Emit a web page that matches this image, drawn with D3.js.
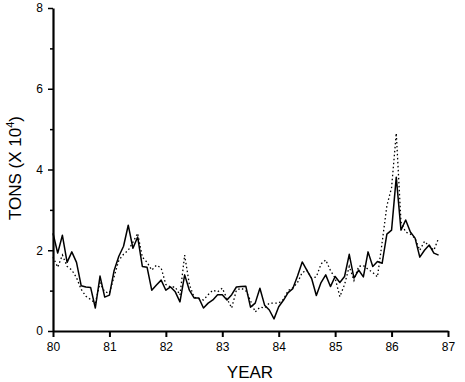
<!DOCTYPE html>
<html>
<head>
<meta charset="utf-8">
<script src="https://cdn.jsdelivr.net/npm/d3@7"></script>
<style>
  html, body { margin: 0; padding: 0; background: #fff; }
  svg { display: block; }
  text { font-family: "Liberation Sans", Arial, sans-serif; fill: #000; }
</style>
</head>
<body>
<div id="chart"></div>
<script>
// monthly values, Jan 1980 .. Nov 1986 (tons x 10^4)
const solidSeries = [
  2.42, 1.93, 2.37, 1.70, 1.96, 1.70, 1.12, 1.09, 1.08, 0.57, 1.36, 0.84,
  0.89, 1.50, 1.85, 2.10, 2.62, 2.05, 2.33, 1.60, 1.58, 1.01, 1.14, 1.26,
  1.01, 1.09, 0.97, 0.72, 1.39, 1.01, 0.82, 0.82, 0.57, 0.69, 0.77, 0.90,
  0.90, 0.77, 0.90, 1.09, 1.10, 1.11, 0.59, 0.69, 1.06, 0.64, 0.52, 0.30,
  0.60, 0.76, 0.95, 1.05, 1.36, 1.71, 1.50, 1.30, 0.88, 1.20, 1.39, 1.10,
  1.35, 1.20, 1.35, 1.90, 1.31, 1.51, 1.34, 1.96, 1.60, 1.72, 1.68, 2.40,
  2.50, 3.81, 2.50, 2.75, 2.45, 2.30, 1.83, 2.00, 2.13, 1.93, 1.88
];
const dottedSeries = [
  1.83, 1.58, 1.88, 1.60, 1.51, 1.32, 1.03, 0.86, 0.78, 0.69, 1.19, 0.97,
  0.94, 1.35, 1.75, 1.90, 2.00, 2.20, 2.42, 1.83, 1.70, 1.51, 1.63, 1.56,
  1.15, 1.09, 1.09, 0.89, 1.88, 1.15, 0.84, 0.80, 0.77, 0.90, 1.01, 0.97,
  1.06, 0.80, 0.57, 1.01, 1.06, 1.00, 0.75, 0.47, 0.59, 0.57, 0.69, 0.69,
  0.69, 0.78, 1.00, 1.07, 1.20, 1.45, 1.50, 1.31, 1.34, 1.66, 1.76, 1.50,
  1.31, 0.85, 1.15, 1.60, 1.25, 1.60, 1.62, 1.53, 1.45, 1.34, 2.20, 3.10,
  3.55, 4.90, 2.70, 2.45, 2.40, 2.30, 2.00, 2.22, 2.10, 2.00, 2.30
];
const startYear = 80;
const yearTicks = [80, 81, 82, 83, 84, 85, 86, 87];
const tonTicks = [0, 2, 4, 6, 8];
const tonMinorTicks = [1, 3, 5, 7];

const width = 465, height = 382;

const svg = d3.select('#chart').append('svg')
  .attr('width', width)
  .attr('height', height);

const xScale = d3.scaleLinear().domain([80, 87]).range([53, 448]);
const yScale = d3.scaleLinear().domain([0, 8]).range([331, 8]);

const toPoints = (vals) => vals.map((v, i) => ({ t: startYear + i / 12, v }));

const line = d3.line()
  .x(d => xScale(d.t))
  .y(d => yScale(d.v));

// 点线
svg.append('path')
  .datum(toPoints(dottedSeries))
  .attr('d', line)
  .attr('fill', 'none')
  .attr('stroke', '#000')
  .attr('stroke-width', 1.3)
  .attr('stroke-dasharray', '1.5,2.5');

// 实线
svg.append('path')
  .datum(toPoints(solidSeries))
  .attr('d', line)
  .attr('fill', 'none')
  .attr('stroke', '#000')
  .attr('stroke-width', 1.5)
  .attr('stroke-linejoin', 'round');

// X 轴
const xAxis = svg.append('g')
  .attr('transform', `translate(0, ${yScale(0)})`)
  .call(d3.axisBottom(xScale).tickValues(yearTicks).tickFormat(d3.format('d'))
    .tickSize(6).tickPadding(5).tickSizeOuter(0));
xAxis.select('.domain').attr('stroke-width', 2.2);
xAxis.selectAll('.tick line').attr('stroke-width', 2);
xAxis.selectAll('text').style('font-size', '12px').attr('fill', '#000');

// Y 轴
const yAxis = svg.append('g')
  .attr('transform', `translate(${xScale(80)}, 0)`)
  .call(d3.axisLeft(yScale).tickValues(tonTicks).tickFormat(d3.format('d'))
    .tickSize(5).tickPadding(5).tickSizeOuter(0));
yAxis.select('.domain').attr('stroke-width', 2.2);
yAxis.selectAll('.tick line').attr('stroke-width', 1.5);
yAxis.selectAll('text').style('font-size', '12px').attr('fill', '#000');

svg.append('g')
  .attr('transform', `translate(${xScale(80)}, 0)`)
  .call(d3.axisLeft(yScale).tickValues(tonMinorTicks).tickSize(3).tickFormat(''))
  .call(g => g.select('.domain').remove())
  .selectAll('line').attr('stroke-width', 1.5);

// 轴标题
svg.append('text')
  .attr('x', 250)
  .attr('y', 378)
  .attr('text-anchor', 'middle')
  .style('font-size', '17px')
  .text('YEAR');

const yLabel = svg.append('text')
  .attr('transform', 'translate(21, 168) rotate(-90)')
  .attr('text-anchor', 'middle')
  .style('font-size', '17px');
yLabel.append('tspan').text('TONS (X 10');
yLabel.append('tspan').attr('dy', -7).style('font-size', '11px').text('4');
yLabel.append('tspan').attr('dy', 7).text(')');
</script>
</body>
</html>
